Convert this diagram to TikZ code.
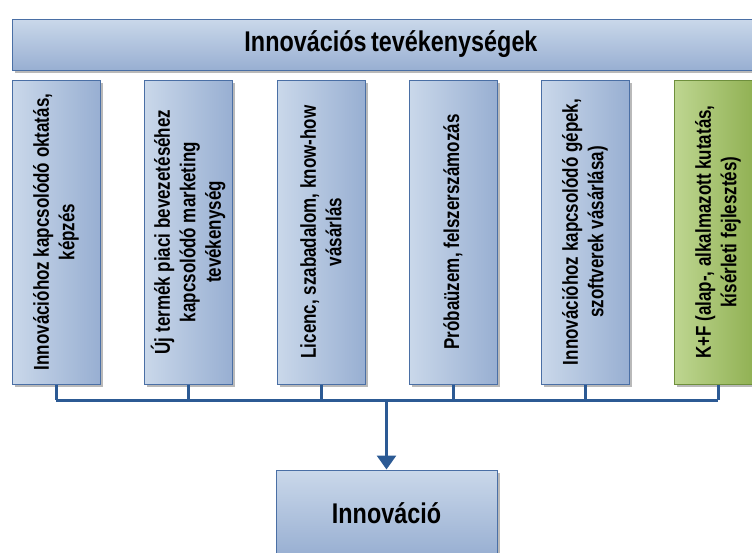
\documentclass[tikz,border=0pt]{standalone}
\usepackage{fontspec}
\newfontfamily\nb{Liberation Sans}[FakeStretch=0.82,WordSpace=0.72]
\newfontfamily\nc{Liberation Sans}[FakeStretch=0.79]
\newcommand\mycolfont{\nc\bfseries\fontsize{21.5}{25.5}\selectfont}
\usetikzlibrary{shadows,arrows.meta}
\definecolor{blueL}{HTML}{CAD8EA}
\definecolor{blueD}{HTML}{98AFD2}
\definecolor{bordB}{HTML}{4A6FA5}
\definecolor{greenL}{HTML}{BED691}
\definecolor{greenD}{HTML}{8CAD4D}
\definecolor{bordG}{HTML}{6E8F3C}
\definecolor{connC}{HTML}{2C5A94}
\begin{document}
\begin{tikzpicture}[x=1pt,y=-1pt,
  shad/.style={drop shadow={shadow xshift=2.5pt,shadow yshift=-2.5pt,opacity=0.5,fill=black!55}},
  colbox/.style={rotate=90, draw=bordB, line width=1pt, left color=blueL, right color=blueD,
    minimum width=304pt, minimum height=88pt, inner sep=2pt, align=center,
    font=\mycolfont, shad},
  greenbox/.style={colbox, draw=bordG, left color=greenL, right color=greenD},
  bigbox/.style={draw=bordB, line width=1pt, top color=blueL, bottom color=blueD,
    inner sep=0pt, font=\nb\bfseries\fontsize{28.5}{32}\selectfont, shad},
  conn/.style={draw=connC, line width=3pt, line join=round}
]
\useasboundingbox (0,0) rectangle (752,552);
\clip (0,0) rectangle (752,552);
\node[bigbox, minimum width=758pt, minimum height=51pt] (top) at (391,44.5) {Innovációs tevékenységek};
\node[colbox] (b1) at (56,232) {Innovációhoz kapcsolódó oktatás,\\ képzés};
\node[colbox] (b2) at (188,232) {Új termék piaci bevezetéséhez\\ kapcsolódó marketing\\ tevékenység};
\node[colbox] (b3) at (321,232) {Licenc, szabadalom, know-how\\ vásárlás};
\node[colbox] (b4) at (453,232) {Próbaüzem, felszerszámozás};
\node[colbox] (b5) at (585,232) {Innovációhoz kapcsolódó gépek,\\ szoftverek vásárlása)};
\node[greenbox] (b6) at (718,232) {K+F (alap-, alkalmazott kutatás,\\ kísérleti fejlesztés)};
\node[bigbox, minimum width=221pt, minimum height=86pt] (inn) at (386.5,513) {Innováció};
\coordinate (bus) at (386.5,400);
\foreach \b in {b1,b2,b3,b4,b5,b6} {
  \draw[conn] (\b.west) -- (\b.west |- bus);
}
\draw[conn] (b1.west |- bus) -- (b6.west |- bus);
\draw[conn, -{Triangle[width=19pt,length=14pt]}] (bus) -- (inn.north);
\end{tikzpicture}
\end{document}
